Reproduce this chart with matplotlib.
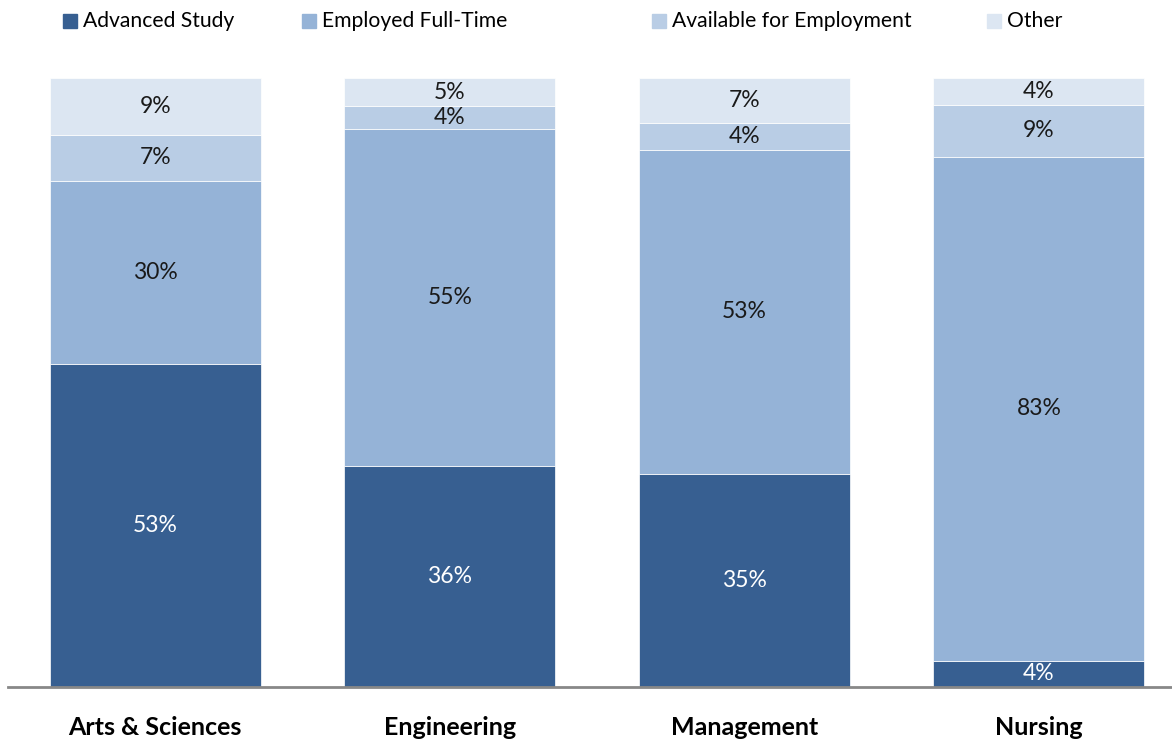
import numpy as np
import matplotlib.pyplot as plt
from matplotlib.patches import Rectangle

plt.rcParams['font.family'] = ['Lato', 'DejaVu Sans']

# Data (shares in %; labels show them rounded)
categories = ['Arts & Sciences', 'Engineering', 'Management', 'Nursing']
series = ['Advanced Study', 'Employed Full-Time', 'Available for Employment', 'Other']
advanced = [52.9, 36.3, 35.0, 4.3]
employed = [30.1, 55.3, 53.1, 82.7]
available = [7.4, 3.8, 4.4, 8.6]
other = [9.4, 4.6, 7.4, 4.4]

colors = ['#375F91', '#95B3D7', '#B9CDE5', '#DCE6F2']
text_colors = ['white', '#1a1a1a', '#1a1a1a', '#1a1a1a']

values = np.array([advanced, employed, available, other], dtype=float)
totals = values.sum(axis=0)
shares = values / totals * 100  # 100% stacked

fig = plt.figure(figsize=(11.72, 7.40), dpi=100)
ax = fig.add_axes([8 / 1172, 1 - 687 / 740, 1 - 8 / 1172, (687 - 78) / 740])

x = np.arange(len(categories))
bottom = np.zeros(len(categories))
for i, name in enumerate(series):
    ax.bar(x, shares[i], 0.716, bottom=bottom, color=colors[i],
           edgecolor='white', linewidth=0.5, label=name, zorder=2)
    for j in range(len(categories)):
        ax.text(x[j], bottom[j] + shares[i][j] / 2, f'{values[i][j]:.0f}%',
                ha='center', va='center', fontsize=16.5, color=text_colors[i], zorder=3)
    bottom += shares[i]

ax.set_xlim(-0.5, 3.452)
ax.set_ylim(0, 100)
ax.set_yticks([])
ax.set_xticks(x)
ax.set_xticklabels(categories, fontsize=18, fontweight='bold', color='black')
ax.tick_params(axis='x', length=0, pad=21)
for s in ['top', 'right', 'left']:
    ax.spines[s].set_visible(False)
ax.spines['bottom'].set_color('#888888')
ax.spines['bottom'].set_linewidth(2)

# Legend along the top
legend_x = [63, 302, 652, 987]
for i, name in enumerate(series):
    fig.patches.append(Rectangle((legend_x[i] / 1172, 1 - 28 / 740), 14 / 1172, 14 / 740,
                                 transform=fig.transFigure, color=colors[i]))
    fig.text((legend_x[i] + 20) / 1172, 1 - 21 / 740, name, fontsize=15.2,
             va='center', ha='left', color='black')

plt.savefig('out.png', dpi=100)
